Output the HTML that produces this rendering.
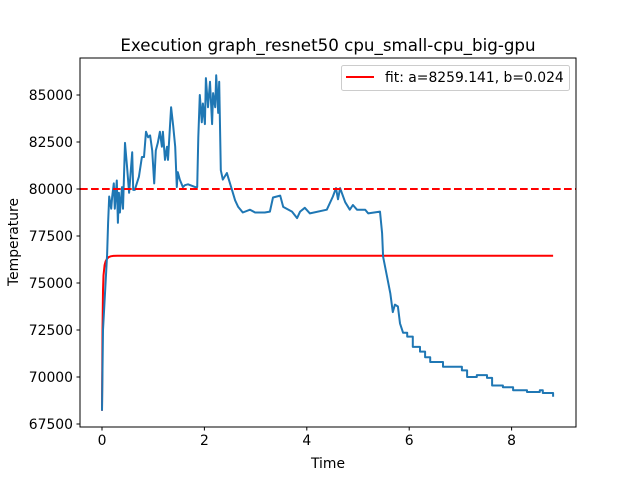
<!DOCTYPE html>
<html><head><meta charset="utf-8"><style>
body{margin:0;background:#fff}
svg{display:block;font-family:"DejaVu Sans","Liberation Sans",sans-serif}
</style></head><body>
<svg id="chart" width="640" height="480">
<rect width="640" height="480" fill="#fff"/>
<text x="328" y="51" font-size="16.7" text-anchor="middle">Execution graph_resnet50 cpu_small-cpu_big-gpu</text>
<text x="328" y="468" font-size="13.9" text-anchor="middle">Time</text>
<text x="18" y="242" font-size="13.9" text-anchor="middle" transform="rotate(-90 18 242)">Temperature</text>
<g id="plot"></g>
</svg>
<script>
const xTicks=[0,2,4,6,8];
const yTicks=[67500,70000,72500,75000,77500,80000,82500,85000];
const threshold=80000;
const tempTimes=[0,0.02,0.10,0.12,0.14,0.18,0.20,0.23,0.25,0.29,0.31,0.33,0.35,0.39,0.41,0.45,0.49,0.53,0.59,0.61,0.64,0.68,0.72,0.78,0.82,0.86,0.90,0.94,0.98,1.02,1.05,1.09,1.13,1.17,1.19,1.23,1.27,1.29,1.35,1.39,1.43,1.46,1.48,1.52,1.58,1.62,1.68,1.82,1.86,1.88,1.91,1.95,1.97,2.01,2.03,2.07,2.11,2.15,2.17,2.21,2.23,2.27,2.29,2.32,2.36,2.44,2.46,2.54,2.60,2.66,2.75,2.89,2.99,3.18,3.28,3.34,3.48,3.54,3.71,3.81,3.87,3.96,4.06,4.39,4.51,4.57,4.61,4.65,4.75,4.84,4.90,4.98,5.14,5.20,5.43,5.47,5.49,5.57,5.63,5.68,5.72,5.78,5.82,5.88,5.96,6.07,6.21,6.31,6.41,6.60,6.66,6.86,7.03,7.13,7.32,7.52,7.62,7.83,8.03,8.30,8.55,8.61,8.81];
const tempValues=[68200,72500,76500,78200,79600,78950,79600,80300,78950,80450,78200,79800,78750,80100,78950,82450,81150,79800,81950,79950,79950,80300,80650,81700,81700,83050,82750,82850,82050,80300,82050,82450,83050,82250,83050,81550,82250,81550,84350,83350,82250,80100,80900,80500,80100,80200,80250,80100,80100,82750,85000,83550,84550,83450,85900,84350,85700,83450,85100,84350,86050,84050,85700,81000,80500,80850,80650,79950,79400,79050,78750,78900,78750,78750,78800,79550,79650,79050,78800,78450,78800,79000,78700,78900,79600,80050,79450,80050,79300,78900,79150,78900,78900,78700,78800,77650,76400,75300,74450,73450,73850,73750,72850,72350,72150,71600,71350,71050,70800,70800,70550,70550,70350,70000,70100,69950,69550,69450,69300,69200,69300,69150,68950];
const fitTimes=[0,0.01,0.02,0.03,0.05,0.07,0.10,0.13,0.17,0.22,0.3,1,4,8.81];
const fitValues=[68200,72500,74600,75400,75950,76150,76300,76380,76420,76440,76450,76450,76450,76450];

const L=80,R=576,T=58,B=427;
const X=t=>102+t*51.2;
const Y=v=>189-(v-80000)*47/2500;
const NS='http://www.w3.org/2000/svg';
const g=document.getElementById('plot');
function mk(tag,attrs,parent){const e=document.createElementNS(NS,tag);for(const k in attrs)e.setAttribute(k,attrs[k]);(parent||g).appendChild(e);return e;}

const fitPath=mk('path',{d:fitTimes.map((t,i)=>(i?'L':'M')+X(t).toFixed(1)+','+Y(fitValues[i]).toFixed(1)).join(''),fill:'none',stroke:'#ff0000','stroke-width':2});



let d='';
tempTimes.forEach((t,i)=>{
  const x=X(t).toFixed(1),y=Y(tempValues[i]).toFixed(1);
  if(i===0){d+='M'+x+','+y;}
  else if(t>=5.96){d+='H'+x+'V'+y;}
  else d+='L'+x+','+y;
});
const tempPath=mk('path',{d:d,fill:'none',stroke:'#1f77b4','stroke-width':2,'stroke-linejoin':'round'});



const th=mk('line',{x1:L,x2:R,y1:Y(threshold),y2:Y(threshold),stroke:'#ff0000','stroke-width':2,'stroke-dasharray':'7.7,3.3'});



const frame=mk('rect',{x:L,y:T,width:R-L,height:B-T,fill:'none',stroke:'#000','stroke-width':1});



xTicks.forEach(t=>{
  const tk=mk('line',{x1:X(t),x2:X(t),y1:B,y2:B+3.5,stroke:'#000'});
  
  
  const tx=mk('text',{x:X(t),y:B+18,'font-size':13.9,'text-anchor':'middle'});
  tx.textContent=t;
  
  
});
yTicks.forEach(v=>{
  const tk=mk('line',{x1:L-3.5,x2:L,y1:Y(v),y2:Y(v),stroke:'#000'});
  
  
  const tx=mk('text',{x:L-7,y:Y(v)+5,'font-size':13.9,'text-anchor':'end'});
  tx.textContent=v;
  
  
});

const lg=mk('g',{});


mk('rect',{x:341.5,y:65.5,width:228,height:25,rx:2,fill:'#fff','fill-opacity':0.8,stroke:'#ccc'},lg);
mk('line',{x1:346,x2:374,y1:77,y2:77,stroke:'#ff0000','stroke-width':2},lg);
const lt=mk('text',{x:385,y:82,'font-size':13.9},lg);
lt.textContent='fit: a=8259.141, b=0.024';


</script>
</body></html>
